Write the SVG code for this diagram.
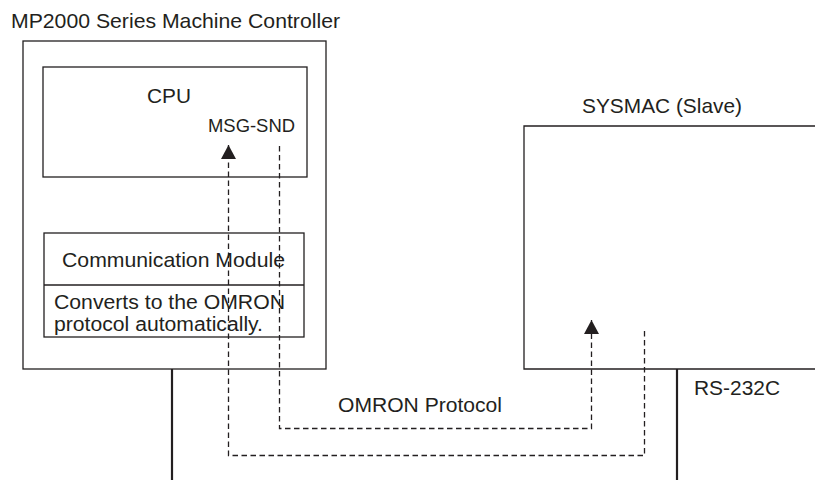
<svg xmlns="http://www.w3.org/2000/svg" width="815" height="480" viewBox="0 0 815 480">
  <style>
    .box { fill: none; stroke: #231f20; stroke-width: 1.3; }
    .bus { fill: none; stroke: #231f20; stroke-width: 2.2; }
    .dash { fill: none; stroke: #231f20; stroke-width: 1.3; stroke-dasharray: 5.5 3.5; }
    .t { font-family: "Liberation Sans", Arial, sans-serif; font-size: 21px; fill: #231f20; }
    .m { font-family: "Liberation Sans", Arial, sans-serif; font-size: 19.5px; fill: #231f20; }
    .s { font-family: "Liberation Sans", Arial, sans-serif; font-size: 18.5px; fill: #231f20; }
  </style>
  <defs>
    <marker id="arr" markerUnits="userSpaceOnUse" markerWidth="16" markerHeight="16" viewBox="0 0 14 16" refX="14" refY="8" orient="auto">
      <path d="M0,0.5 L14,8 L0,15.5 Z" fill="#231f20" stroke="none"/>
    </marker>
  </defs>
  <rect width="815" height="480" fill="#ffffff"/>

  <g id="controller">
    <text class="t" x="11" y="28" textLength="329" lengthAdjust="spacingAndGlyphs">MP2000 Series Machine Controller</text>
    <rect class="box" x="23" y="41" width="303" height="328"/>
  </g>

  <g id="cpu">
    <rect class="box" x="43" y="67" width="264" height="110"/>
    <text class="t" x="147" y="103" textLength="44" lengthAdjust="spacingAndGlyphs">CPU</text>
    <text class="s" x="208" y="132" textLength="87" lengthAdjust="spacingAndGlyphs">MSG-SND</text>
  </g>

  <g id="comm-module">
    <rect class="box" x="44" y="233" width="260" height="104"/>
    <line class="box" x1="44" y1="285" x2="304" y2="285"/>
    <text class="t" x="62" y="267" textLength="223" lengthAdjust="spacingAndGlyphs">Communication Module</text>
    <text class="m" x="54" y="309" textLength="231" lengthAdjust="spacingAndGlyphs">Converts to the OMRON</text>
    <text class="m" x="54" y="331" textLength="209" lengthAdjust="spacingAndGlyphs">protocol automatically.</text>
  </g>

  <g id="sysmac">
    <text class="t" x="582" y="113" textLength="160" lengthAdjust="spacingAndGlyphs">SYSMAC (Slave)</text>
    <path class="box" d="M815,126 H524 V369 H815"/>
  </g>

  <g id="connectors">
    <line class="bus" x1="172" y1="369" x2="172" y2="480"/>
    <line class="bus" x1="677" y1="369" x2="677" y2="480"/>
    <text class="t" x="694" y="395" textLength="86" lengthAdjust="spacingAndGlyphs">RS-232C</text>
    <path class="dash" d="M279.5,146 V428.5 H591.5 V320" marker-end="url(#arr)"/>
    <path class="dash" d="M644.5,331 V455.5 H228.5 V145" marker-end="url(#arr)"/>
    <text class="t" x="338" y="412" textLength="164" lengthAdjust="spacingAndGlyphs">OMRON Protocol</text>
  </g>
</svg>
